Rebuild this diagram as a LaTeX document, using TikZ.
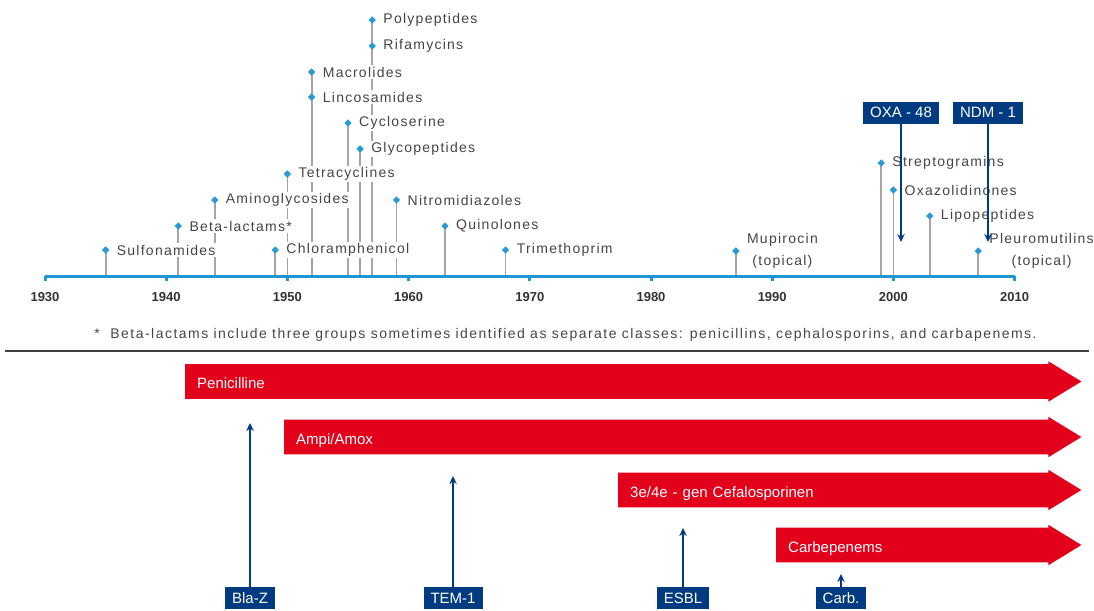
\documentclass[tikz,border=0pt]{standalone}
\usepackage{fontspec}
\setmainfont{Liberation Sans}
\newfontfamily\lblfont[LetterSpace=9]{Liberation Sans}
\newfontfamily\notefont[LetterSpace=10.5]{Liberation Sans}
\usepackage{tikz}
\usetikzlibrary{arrows.meta,shapes.geometric,positioning,backgrounds}

\definecolor{axisblue}{RGB}{30,150,210}
\definecolor{dotblue}{RGB}{40,155,215}
\definecolor{stemgray}{RGB}{165,165,165}
\definecolor{lbltext}{RGB}{72,68,68}
\definecolor{barred}{RGB}{226,0,26}
\definecolor{tagnavy}{RGB}{0,58,128}

\tikzset{
  evdot/.style={diamond, fill=dotblue, inner sep=0pt, minimum size=7.5pt},
  evstem/.style={draw=stemgray, line width=1.8pt},
  evlabel/.style={anchor=west, fill=white, inner sep=1.5pt, text=lbltext, align=center, font=\lblfont\fontsize{14}{22}\selectfont},
  yearlbl/.style={font=\bfseries\fontsize{13}{15}\selectfont, text=black!80},
  bar/.style={anchor=west, text=white, minimum height=34.5pt, inner xsep=12pt, text height=14pt, text depth=0pt, align=left, font=\fontsize{15}{18}\selectfont},
  tagbox/.style={fill=tagnavy, text=white, minimum height=22pt, inner xsep=7pt, inner ysep=0pt, font=\fontsize{15}{18}\selectfont},
  marker/.style={draw=tagnavy, line width=1.6pt, -{Stealth[length=8pt,width=7.5pt]}},
}

\def\events{sulf/1935/250/Sulfonamides, beta/1941/226/Beta-lactams*, amino/1944/200/Aminoglycosides,
  chlor/1949/250/Chloramphenicol, tetra/1950/174/Tetracyclines, macro/1952/72/Macrolides,
  linco/1952/97/Lincosamides, cyclo/1955/123/Cycloserine, glyco/1956/149/Glycopeptides,
  poly/1957/20/Polypeptides, rifa/1957/46/Rifamycins, nitro/1959/200/Nitromidiazoles,
  quino/1963/226/Quinolones, trime/1968/250/Trimethoprim, mupi/1987/251/{Mupirocin\\(topical)},
  strep/1999/163/Streptogramins, oxaz/2000/190/Oxazolidinones, lipo/2003/216/Lipopeptides,
  pleu/2007/251/{Pleuromutilins\\(topical)}}

\begin{document}
\begin{tikzpicture}[x=1pt,y=-1pt]
   \useasboundingbox (0,0) rectangle (1094,610);

   \foreach \yr in {1930,1940,...,2010}{
     \coordinate (t\yr) at ({45+(\yr-1930)*12.12},276);
   }
   \foreach \n/\yr/\yy/\txt in \events{
     \coordinate (p\n) at ({45+(\yr-1930)*12.12},\yy);
     \draw[evstem] (p\n) -- (p\n |- t1930);
   }

   \draw[axisblue, line width=3pt] (t1930) -- (t2010);
   \foreach \yr in {1930,1940,...,2010}{
     \draw[axisblue, line width=3pt] (t\yr) -- ++(0,5);
     \node[yearlbl] (y\yr) at ([yshift=-21pt]t\yr) {\yr};
   }

   \foreach \n/\yr/\yy/\txt in \events{
     \node[evlabel] (l\n) at ([xshift=9.5pt]p\n) {\txt};
     \node[evdot] (d\n) at (p\n) {};
   }

   \node[text=lbltext, font=\notefont\fontsize{14}{16}\selectfont] (fn) at (565.5,334.5)
     {*\ \ Beta-lactams include three groups sometimes identified as separate classes: penicillins, cephalosporins, and carbapenems.};
   \draw[black!75, line width=1.3pt] (5,351) -- (1089,351);

   \foreach \n/\xs/\yc/\txt [evaluate=\xs as \tw using 1048-\xs-24] in
     {pen/185/381.5/Penicilline, amp/284/437/{Ampi/Amox}, cef/618/490/{3e/4e - gen Cefalosporinen}, carb/776/545/Carbepenems}{
     \node[bar, text width=\tw pt] (\n) at (\xs,\yc) {\txt};
     \begin{scope}[on background layer]
       \fill[barred] (\n.north west) -- (\n.north east) -- ([yshift=2.75pt]\n.north east) -- ([xshift=33pt]\n.east)
         -- ([yshift=-2.75pt]\n.south east) -- (\n.south east) -- (\n.south west) -- cycle;
     \end{scope}
   }

   \node[tagbox] (oxa) at (901,112.5) {OXA - 48};
   \node[tagbox] (ndm) at (988,112.5) {NDM - 1};
   \node[tagbox] (blaz) at (250,598) {Bla-Z};
   \node[tagbox] (tem) at (453,598) {TEM-1};
   \node[tagbox] (esbl) at (683,598) {ESBL};
   \node[tagbox] (carbtag) at (841,598) {Carb.};

   \coordinate (oxaT) at (901,242);
   \coordinate (ndmT) at (988,242);
   \coordinate (blazT) at (250,423);
   \coordinate (temT) at (453,476);
   \coordinate (esblT) at (683,528);
   \coordinate (carbT) at (841,574);

   \draw[marker] (oxa) -- (oxaT);
   \draw[marker] (ndm) -- (ndmT);
   \draw[marker] (blaz) -- (blazT);
   \draw[marker] (tem) -- (temT);
   \draw[marker] (esbl) -- (esblT);
   \draw[marker] (carbtag) -- (carbT);
\end{tikzpicture}
\end{document}
